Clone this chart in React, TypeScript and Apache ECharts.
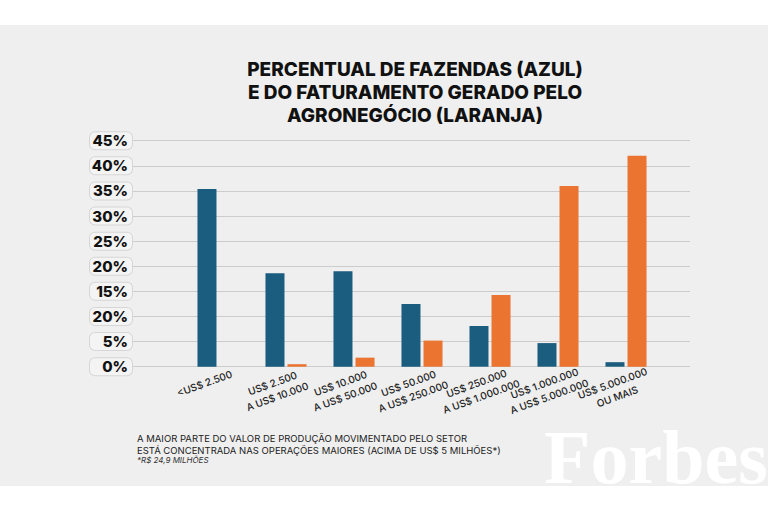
import React, { useEffect, useRef } from "react";
import * as echarts from "echarts";

const categories = [
  "<US$ 2.500",
  "US$ 2.500\nA US$ 10.000",
  "US$ 10.000\nA US$ 50.000",
  "US$ 50.000\nA US$ 250.000",
  "US$ 250.000\nA US$ 1.000.000",
  "US$ 1.000.000\nA US$ 5.000.000",
  "US$ 5.000.000\nOU MAIS",
];
const farmsShare = [35.4, 18.6, 19.0, 12.5, 8.1, 4.7, 0.9];
const revenueShare = [0, 0.5, 1.8, 5.2, 14.3, 36.0, 42.0];
const yTickLabels = ["0%", "5%", "20%", "15%", "20%", "25%", "30%", "35%", "40%", "45%"];

const titleText = "PERCENTUAL DE FAZENDAS (AZUL)\nE DO FATURAMENTO GERADO PELO\nAGRONEGÓCIO (LARANJA)";
const noteText = "A MAIOR PARTE DO VALOR DE PRODUÇÃO MOVIMENTADO PELO SETOR\nESTÁ CONCENTRADA NAS OPERAÇÕES MAIORES (ACIMA DE US$ 5 MILHÕES*)";
const footnoteText = "*R$ 24,9 MILHÕES";

const BLUE = "#1b5d7f";
const ORANGE = "#ea7430";

export default function App() {
  const ref = useRef<HTMLDivElement>(null);
  useEffect(() => {
    if (!ref.current) return;
    const chart = echarts.init(ref.current, null, { renderer: "svg" });
    const top = 140.7;
    const bottom = 512 - 366.7;
    chart.setOption({
      animation: false,
      backgroundColor: "#ffffff",
      graphic: [
        { type: "rect", z: -10, shape: { x: 0, y: 25, width: 768, height: 461 }, style: { fill: "#efefef" } },
        {
          type: "text", z: -5, x: 544, y: 419,
          style: { text: "Forbes", fill: "#ffffff", font: "bold 76px 'Liberation Serif', serif", textVerticalAlign: "top" },
        },
        {
          type: "text", x: 137, y: 433,
          style: { text: noteText, fill: "#222", font: "400 9.5px Inter, sans-serif", lineHeight: 11.5, textVerticalAlign: "top" },
        },
        {
          type: "text", x: 137, y: 456,
          style: { text: footnoteText, fill: "#333", font: "italic 400 8px Inter, sans-serif", textVerticalAlign: "top" },
        },
      ],
      title: {
        text: titleText,
        left: 410,
        top: 53,
        textAlign: "center",
        textStyle: { fontFamily: "Inter", fontWeight: 800, fontSize: 19, lineHeight: 23, color: "#111" },
      },
      grid: [
        { left: 133, right: 78, top, bottom },
        { left: 184, right: 108, top, bottom },
      ],
      xAxis: [
        { gridIndex: 0, type: "value", show: false, min: 0, max: 1 },
        {
          gridIndex: 1,
          type: "category",
          data: categories,
          axisLine: { show: false },
          axisTick: { show: false },
          axisLabel: {
            interval: 0,
            rotate: 20,
            align: "center",
            verticalAlign: "top",
            margin: 4,
            padding: [0, 34, 0, 0],
            fontFamily: "Inter",
            fontWeight: 500,
            fontSize: 10,
            lineHeight: 14,
            color: "#222",
          },
        },
      ],
      yAxis: [
        {
          gridIndex: 0,
          type: "value",
          min: 0,
          max: 45,
          interval: 5,
          axisLine: { show: false },
          axisTick: { show: false },
          splitLine: { lineStyle: { color: "#cccccc", width: 1 } },
          axisLabel: {
            formatter: (v: number) => yTickLabels[Math.round(v / 5)] ?? "",
            margin: 1,
            fontFamily: "Inter",
            fontWeight: 800,
            fontSize: 15,
            color: "#111",
            align: "right",
            width: 34,
            backgroundColor: "#f4f4f4",
            borderColor: "#d6d6d6",
            borderWidth: 1,
            borderRadius: 5,
            padding: [1, 4, 1, 4],
          },
        },
        { gridIndex: 1, type: "value", min: 0, max: 45, show: false },
      ],
      series: [
        {
          type: "bar",
          name: "Fazendas",
          xAxisIndex: 1,
          yAxisIndex: 1,
          data: farmsShare,
          barWidth: 19,
          barGap: "16%",
          itemStyle: { color: BLUE },
        },
        {
          type: "bar",
          name: "Faturamento",
          xAxisIndex: 1,
          yAxisIndex: 1,
          data: revenueShare,
          barWidth: 19,
          barGap: "16%",
          itemStyle: { color: ORANGE },
        },
      ],
    });
    return () => chart.dispose();
  }, []);
  return (
    <div
      ref={ref}
      style={{ position: "fixed", left: 0, top: 0, width: 768, height: 512 }}
    />
  );
}
